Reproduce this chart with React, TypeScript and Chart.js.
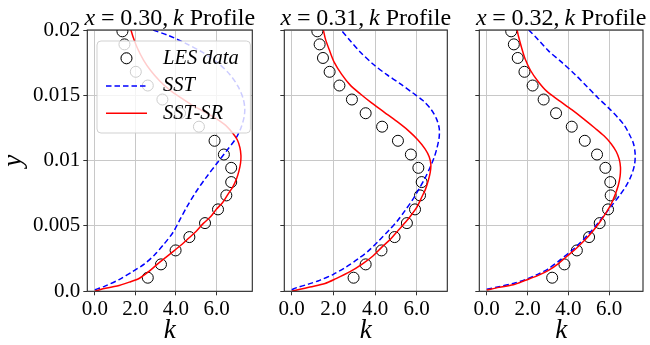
import React, { useEffect, useRef } from 'react';
import { Chart, registerables } from 'chart.js';
Chart.register(...registerables);

const W = 650;
const H = 345;
const SERIF = '"Liberation Serif", "DejaVu Serif", serif';

// ---------- data ----------
const lesY = [0.00104, 0.00206, 0.00313, 0.00415, 0.00522, 0.00627, 0.00734, 0.00836, 0.00945, 0.01047, 0.01152, 0.0126, 0.01363, 0.01468, 0.01575, 0.0168, 0.01786, 0.0189, 0.0199];
const les030X = [2.61, 3.26, 3.98, 4.66, 5.43, 6.07, 6.48, 6.72, 6.72, 6.36, 5.9, 5.13, 4.2, 3.33, 2.61, 2.02, 1.55, 1.46, 1.36];
const les031X = [2.97, 3.55, 4.31, 4.94, 5.53, 5.92, 6.16, 6.24, 6.08, 5.72, 5.1, 4.34, 3.55, 2.89, 2.29, 1.82, 1.5, 1.34, 1.23];
const les032X = [3.21, 3.81, 4.42, 5.02, 5.54, 5.95, 6.08, 6.06, 5.82, 5.41, 4.81, 4.17, 3.4, 2.79, 2.25, 1.85, 1.52, 1.33, 1.2];

const sst030X = [0, 0.5, 1.2, 1.85, 2.45, 2.95, 3.4, 3.85, 4.2, 4.55, 4.98, 5.48, 6.02, 6.52, 6.95, 7.2, 7.35, 7.39, 7.3, 7.05, 6.65, 6.05, 5.3, 4.45, 3.6, 2.85];
const sst030Y = [0.00012, 0.0004, 0.0009, 0.0015, 0.0021, 0.0028, 0.0036, 0.0045, 0.0055, 0.0065, 0.0076, 0.0087, 0.0098, 0.0108, 0.0117, 0.0125, 0.0133, 0.014, 0.0148, 0.0157, 0.0166, 0.0175, 0.0183, 0.019, 0.0196, 0.02];
const sr030X = [0, 0.4, 1.1, 1.7, 2.2, 2.65, 3.1, 3.5, 3.9, 4.3, 4.65, 5.0, 5.35, 5.7, 6.0, 6.3, 6.55, 6.8, 6.98, 7.1, 7.18, 7.2, 7.15, 7.02, 6.8, 6.45, 6.0, 5.45, 4.85, 4.25, 3.7, 3.2, 2.75, 2.4, 2.1, 1.9, 1.78];
const sr030Y = [0, 0.0002, 0.0004, 0.0007, 0.001, 0.0015, 0.0021, 0.0026, 0.0031, 0.0036, 0.0041, 0.0046, 0.0052, 0.0057, 0.0063, 0.0068, 0.0074, 0.008, 0.0086, 0.0092, 0.0098, 0.0104, 0.011, 0.0116, 0.0121, 0.0127, 0.0132, 0.0137, 0.0142, 0.0148, 0.0154, 0.0161, 0.0169, 0.0177, 0.0186, 0.0194, 0.02];

const sst031X = [0, 0.24, 0.8, 1.34, 2.0, 2.61, 3.2, 3.71, 4.2, 4.66, 5.08, 5.45, 5.8, 6.1, 6.38, 6.62, 6.83, 6.98, 7.08, 7.08, 6.95, 6.7, 6.3, 5.8, 5.2, 4.55, 3.9, 3.3, 2.8, 2.37];
const sst031Y = [0.00013, 0.00028, 0.00055, 0.00084, 0.0013, 0.00186, 0.0025, 0.00313, 0.0039, 0.00466, 0.0054, 0.0062, 0.007, 0.0078, 0.0086, 0.0094, 0.0102, 0.011, 0.0118, 0.0125, 0.0132, 0.0139, 0.0146, 0.0152, 0.0159, 0.0166, 0.0174, 0.0183, 0.0192, 0.02];
const sr031X = [0, 0.4, 0.87, 1.6, 2.13, 2.8, 3.4, 3.9, 4.34, 4.75, 5.13, 5.47, 5.77, 6.03, 6.24, 6.42, 6.56, 6.65, 6.68, 6.6, 6.4, 6.05, 5.6, 5.05, 4.45, 3.85, 3.3, 2.8, 2.4, 2.05, 1.8, 1.62, 1.52];
const sr031Y = [0, 0.00015, 0.00033, 0.0006, 0.00097, 0.0015, 0.0021, 0.0027, 0.0034, 0.004, 0.0047, 0.0053, 0.0059, 0.0065, 0.0072, 0.0078, 0.0085, 0.0091, 0.0097, 0.0103, 0.0109, 0.0116, 0.0123, 0.013, 0.0137, 0.0144, 0.0151, 0.0158, 0.0166, 0.0175, 0.0185, 0.0193, 0.02];

const sst032X = [0, 0.6, 1.3, 1.9, 2.5, 3.0, 3.6, 4.3, 4.95, 5.55, 6.1, 6.5, 6.85, 7.1, 7.25, 7.28, 7.2, 7.0, 6.75, 6.43, 6.0, 5.46, 4.9, 4.33, 3.7, 3.03, 2.5, 2.06];
const sst032Y = [0.00015, 0.00035, 0.0006, 0.0009, 0.0013, 0.0017, 0.0024, 0.0033, 0.0043, 0.0054, 0.0065, 0.0073, 0.0081, 0.0089, 0.0097, 0.0105, 0.0113, 0.012, 0.0127, 0.0133, 0.014, 0.0148, 0.0157, 0.0166, 0.0175, 0.0184, 0.0193, 0.02];
const sr032X = [0, 0.6, 1.3, 1.9, 2.5, 3.03, 3.5, 3.95, 4.4, 4.8, 5.2, 5.55, 5.85, 6.11, 6.3, 6.45, 6.54, 6.56, 6.5, 6.35, 6.1, 5.75, 5.3, 4.75, 4.17, 3.55, 2.95, 2.5, 2.15, 1.88, 1.7, 1.56, 1.49];
const sr032Y = [0.0001, 0.0003, 0.0005, 0.00084, 0.0012, 0.0016, 0.0021, 0.0027, 0.0033, 0.0039, 0.0046, 0.0053, 0.006, 0.0067, 0.0074, 0.0081, 0.0088, 0.0095, 0.0101, 0.0107, 0.0113, 0.0119, 0.0125, 0.0132, 0.0139, 0.0146, 0.0153, 0.0161, 0.0169, 0.0178, 0.0187, 0.0195, 0.02];

const panelValues = ['0.30', '0.31', '0.32'];
const xTicks = [0, 2, 4, 6];
const xTickLabels = ['0.0', '2.0', '4.0', '6.0'];
const yTicks = [0, 0.005, 0.01, 0.015, 0.02];
const yTickLabels = ['0.0', '0.005', '0.01', '0.015', '0.02'];
const legendLabels = ['LES data', 'SST', 'SST-SR'];
const xLimits = [[-0.37, 7.76], [-0.356, 7.47], [-0.365, 7.665]];
const yLimits = [0, 0.02];

// ---------- layout ----------
const PLOT_TOP = 30;
const PLOT_BOTTOM = 291.3;
const AREAS = [
  { left: 87.3, right: 252.3 },
  { left: 284.3, right: 447.3 },
  { left: 479.3, right: 643 },
];

const zip = (xs: number[], ys: number[]) => xs.map((x, i) => ({ x, y: ys[i] }));

const panels = [
  { val: panelValues[0], les: zip(les030X, lesY), sst: zip(sst030X, sst030Y), sr: zip(sr030X, sr030Y) },
  { val: panelValues[1], les: zip(les031X, lesY), sst: zip(sst031X, sst031Y), sr: zip(sr031X, sr031Y) },
  { val: panelValues[2], les: zip(les032X, lesY), sst: zip(sst032X, sst032Y), sr: zip(sr032X, sr032Y) },
];

function drawTitle(ctx: CanvasRenderingContext2D, a: any, val: string) {
  const size = 24;
  const up = `${size}px ${SERIF}`;
  const it = `italic ${size}px ${SERIF}`;
  const parts: any[] = [
    { t: 'x', f: it }, { g: 0.24 }, { t: '=', f: up }, { g: 0.24 },
    { t: val + ',', f: up }, { g: 0.2 }, { t: 'k', f: it }, { t: ' Profile', f: up },
  ];
  let total = 0;
  for (const p of parts) {
    if (p.g) { p.w = p.g * size; } else { ctx.font = p.f; p.w = ctx.measureText(p.t).width; }
    total += p.w;
  }
  let x = (a.left + a.right) / 2 - total / 2;
  ctx.save();
  ctx.fillStyle = '#000';
  ctx.textBaseline = 'alphabetic';
  ctx.textAlign = 'left';
  for (const p of parts) {
    if (!p.g) { ctx.font = p.f; ctx.fillText(p.t, x, 24.5); }
    x += p.w;
  }
  ctx.restore();
}

function drawLegend(ctx: CanvasRenderingContext2D, a: any) {
  const bx = a.left + 9.7, by = a.top + 11, bw = 153.4, bh = 92, r = 4;
  ctx.save();
  ctx.beginPath();
  ctx.moveTo(bx + r, by);
  ctx.lineTo(bx + bw - r, by);
  ctx.quadraticCurveTo(bx + bw, by, bx + bw, by + r);
  ctx.lineTo(bx + bw, by + bh - r);
  ctx.quadraticCurveTo(bx + bw, by + bh, bx + bw - r, by + bh);
  ctx.lineTo(bx + r, by + bh);
  ctx.quadraticCurveTo(bx, by + bh, bx, by + bh - r);
  ctx.lineTo(bx, by + r);
  ctx.quadraticCurveTo(bx, by, bx + r, by);
  ctx.closePath();
  ctx.fillStyle = 'rgba(255,255,255,0.8)';
  ctx.fill();
  ctx.strokeStyle = 'rgba(204,204,204,0.9)';
  ctx.lineWidth = 1;
  ctx.stroke();

  const hx0 = bx + 9, hx1 = bx + 50, tx = bx + 66;
  const rows = [by + 17.3, by + 45, by + 72.3];
  ctx.beginPath();
  ctx.arc((hx0 + hx1) / 2, rows[0], 5.5, 0, Math.PI * 2);
  ctx.strokeStyle = '#000';
  ctx.lineWidth = 1;
  ctx.stroke();
  ctx.beginPath();
  ctx.setLineDash([5.5, 3]);
  ctx.moveTo(hx0, rows[1]); ctx.lineTo(hx1, rows[1]);
  ctx.strokeStyle = '#0000ff';
  ctx.lineWidth = 1.5;
  ctx.stroke();
  ctx.setLineDash([]);
  ctx.beginPath();
  ctx.moveTo(hx0, rows[2]); ctx.lineTo(hx1, rows[2]);
  ctx.strokeStyle = '#ff0000';
  ctx.stroke();

  ctx.fillStyle = '#000';
  ctx.font = `italic 20.5px ${SERIF}`;
  ctx.textBaseline = 'middle';
  ctx.textAlign = 'left';
  legendLabels.forEach((l, i) => ctx.fillText(l, tx, rows[i]));
  ctx.restore();
}

function makeConfig(idx: number): any {
  const p = panels[idx];
  const area = AREAS[idx];
  const yW = idx === 0 ? 87.3 : 12;
  const xH = H - 1 - PLOT_BOTTOM;
  const deco = {
    id: 'deco' + idx,
    afterDatasetsDraw(chart: any) {
      const { ctx, chartArea: a } = chart;
      ctx.save();
      ctx.strokeStyle = '#262626';
      ctx.lineWidth = 1.1;
      ctx.strokeRect(a.left, a.top, a.right - a.left, a.bottom - a.top);
      ctx.restore();
      if (idx === 0) drawLegend(ctx, a);
      drawTitle(ctx, a, p.val);
    },
  };
  return {
    type: 'scatter',
    data: {
      datasets: [
        {
          label: legendLabels[2], data: p.sr, showLine: true, borderColor: '#ff0000', borderWidth: 1.5,
          pointRadius: 0, tension: 0.3, fill: false, clip: 0,
        },
        {
          label: legendLabels[1], data: p.sst, showLine: true, borderColor: '#0000ff', borderWidth: 1.5,
          borderDash: [5.5, 3], pointRadius: 0, tension: 0.3, fill: false, clip: 0,
        },
        {
          label: legendLabels[0], data: p.les, showLine: false, pointRadius: 5.5,
          pointBorderColor: '#000', pointBackgroundColor: 'rgba(0,0,0,0)', pointBorderWidth: 1, clip: 0,
        },
      ],
    },
    options: {
      responsive: false,
      animation: false,
      devicePixelRatio: 1,
      events: [],
      layout: { padding: { left: area.left - yW, right: W - area.right, top: PLOT_TOP, bottom: 1 } },
      plugins: { legend: { display: false }, title: { display: false }, tooltip: { enabled: false } },
      scales: {
        x: {
          type: 'linear', position: 'bottom', min: xLimits[idx][0], max: xLimits[idx][1],
          afterBuildTicks: (s: any) => { s.ticks = xTicks.map((v) => ({ value: v })); },
          afterFit: (s: any) => { s.height = xH; },
          ticks: {
            callback: (v: number) => xTickLabels[xTicks.indexOf(v)] ?? '',
            font: { family: SERIF, size: 21 }, color: '#000', maxRotation: 0, autoSkip: false, padding: 2,
          },
          grid: { color: '#c8c8c8', lineWidth: 1, tickColor: '#333', tickLength: 4, drawTicks: true },
          border: { display: false },
          title: { display: true, text: 'k', color: '#000', padding: 0, font: { family: SERIF, size: 27, style: 'italic', lineHeight: 1 } },
        },
        y: {
          type: 'linear', position: 'left', min: yLimits[0], max: yLimits[1],
          afterBuildTicks: (s: any) => { s.ticks = yTicks.map((v) => ({ value: v })); },
          afterFit: (s: any) => { s.width = yW; },
          ticks: {
            callback: (v: number) => (idx === 0 ? yTickLabels[yTicks.indexOf(v)] ?? '' : ''),
            font: { family: SERIF, size: 21 }, color: '#000', autoSkip: false, padding: 3,
          },
          grid: { color: '#c8c8c8', lineWidth: 1, tickColor: '#333', tickLength: 4, drawTicks: true },
          border: { display: false },
          title: { display: idx === 0, text: 'y', color: '#000', padding: 0, font: { family: SERIF, size: 27, style: 'italic', lineHeight: 1 } },
        },
      },
    },
    plugins: [deco],
  };
}

function Panel({ idx }: { idx: number }) {
  const ref = useRef<HTMLCanvasElement | null>(null);
  useEffect(() => {
    if (!ref.current) return;
    const chart = new Chart(ref.current, makeConfig(idx));
    return () => chart.destroy();
  }, [idx]);
  return (
    <canvas
      ref={ref}
      width={W}
      height={H}
      style={{ position: 'absolute', left: 0, top: 0, width: W, height: H }}
    />
  );
}

export default function App() {
  return (
    <div style={{ position: 'fixed', left: 0, top: 0, width: W, height: H, background: '#fff', overflow: 'hidden' }}>
      <Panel idx={0} />
      <Panel idx={1} />
      <Panel idx={2} />
    </div>
  );
}
